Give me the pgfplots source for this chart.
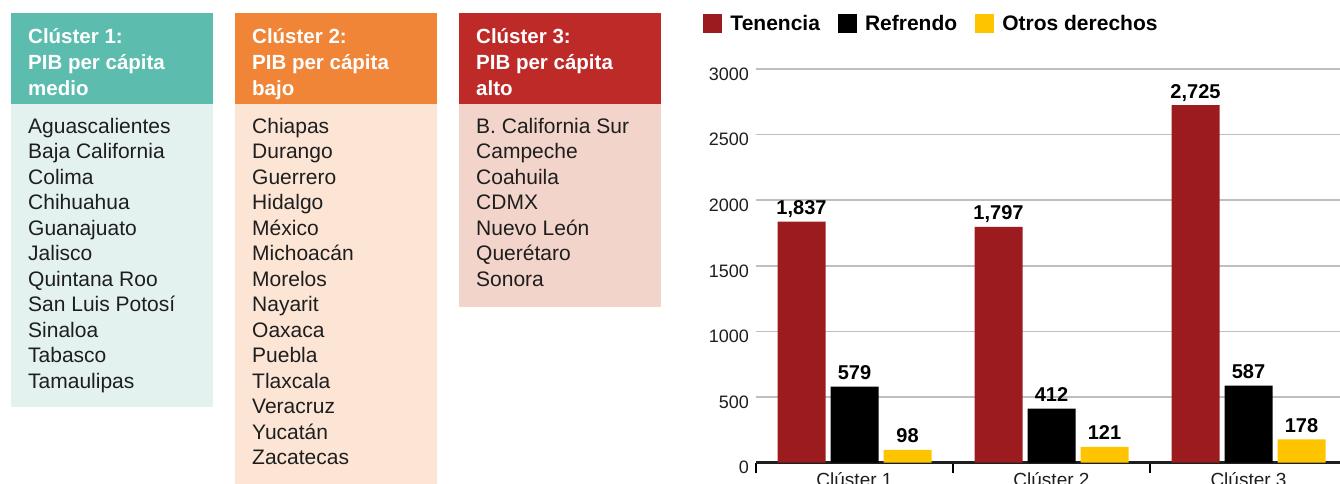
\documentclass[border=0pt]{standalone}
\usepackage{fontspec}
\setmainfont{Liberation Sans}
\usepackage{pgfplots}
\pgfplotsset{compat=1.18}
\definecolor{tenencia}{HTML}{9B1B1E}
\definecolor{otros}{HTML}{FFC400}
\definecolor{cAhead}{HTML}{5CBDAF}
\definecolor{cAbody}{HTML}{E3F2EF}
\definecolor{cBhead}{HTML}{F08437}
\definecolor{cBbody}{HTML}{FCE5D5}
\definecolor{cChead}{HTML}{BE2A28}
\definecolor{cCbody}{HTML}{F2D4CA}
\definecolor{txt}{HTML}{1E1E1E}
\begin{document}
\begin{tikzpicture}[x=1pt,y=1pt]
\path[use as bounding box, clip] (0,0) rectangle (1340,483);
% panels
\fill[cAhead] (11,379) rectangle (213,470);
\fill[cAbody] (11,76) rectangle (213,379);
\fill[cBhead] (235,379) rectangle (437,470);
\fill[cBbody] (235,-5) rectangle (437,379);
\fill[cChead] (459,379) rectangle (661,470);
\fill[cCbody] (459,176) rectangle (661,379);
\tikzset{hd/.style={anchor=base west, inner sep=0pt, text=white, font=\bfseries\fontsize{20.5}{24}\selectfont},
         it/.style={anchor=base west, inner sep=0pt, text=txt, font=\fontsize{21}{25}\selectfont}}
\node[hd] at (28,439) {Clúster 1:};
\node[hd] at (28,413.5) {PIB per cápita};
\node[hd] at (28,388) {medio};
\node[hd] at (252,439) {Clúster 2:};
\node[hd] at (252,413.5) {PIB per cápita};
\node[hd] at (252,388) {bajo};
\node[hd] at (476,439) {Clúster 3:};
\node[hd] at (476,413.5) {PIB per cápita};
\node[hd] at (476,388) {alto};
\foreach \t [count=\i from 0] in {Aguascalientes,Baja California,Colima,Chihuahua,Guanajuato,Jalisco,Quintana Roo,San Luis Potosí,Sinaloa,Tabasco,Tamaulipas}
  \node[it] at (28,350-25.5*\i) {\t};
\foreach \t [count=\i from 0] in {Chiapas,Durango,Guerrero,Hidalgo,México,Michoacán,Morelos,Nayarit,Oaxaca,Puebla,Tlaxcala,Veracruz,Yucatán,Zacatecas}
  \node[it] at (252,350-25.5*\i) {\t};
\foreach \t [count=\i from 0] in {B. California Sur,Campeche,Coahuila,CDMX,Nuevo León,Querétaro,Sonora}
  \node[it] at (476,350-25.5*\i) {\t};
\begin{axis}[
  at={(756pt,20.3pt)}, anchor=south west,
  scale only axis, width=591pt, height=393.7pt,
  xmin=-0.5, xmax=2.5, ymin=0, ymax=3000,
  clip=false,
  axis x line*=bottom, axis y line*=left,
  x axis line style={-, line width=2.5pt, black!88},
  y axis line style={draw=none},
  tick align=inside,
  xtick={0,1,2}, xticklabels={Clúster 1,Clúster 2,Clúster 3},
  minor xtick={-0.5,0.5,1.5},
  major tick length=0pt, minor tick length=10pt,
  minor x tick style={line width=1.5pt, black},
  ytick={0,500,1000,1500,2000,2500,3000},
  ymajorgrids, major grid style={line width=1.6pt, gray!50},
  /pgf/number format/1000 sep={},
  /pgf/number format/assume math mode=true,
  yticklabel style={font=\fontsize{18}{20}\selectfont, text=txt, xshift=-3.5pt, yshift=-5pt},
  xticklabel style={font=\fontsize{19}{22}\selectfont, text=txt, anchor=north, inner sep=0pt, yshift=-10pt},
  ybar=5pt, bar width=48pt,
  nodes near coords={\pgfmathprintnumber[assume math mode=true,1000 sep={,}]{\pgfplotspointmeta}},
  every node near coord/.append style={anchor=base, yshift=7pt, inner sep=0pt, text=black, font=\bfseries\fontsize{20}{24}\selectfont},
  legend columns=-1,
  legend image code/.code={\fill[#1] (0pt,-9.5pt) rectangle (19pt,9.5pt);},
  legend style={at={(-0.0897,1.1159)}, anchor=west, draw=none, fill=none, inner sep=0pt,
    font=\bfseries\fontsize{21}{24}\selectfont,
    /tikz/every odd column/.append style={column sep=6.3pt},
    /tikz/every even column/.append style={column sep=15.8pt}},
]
\addplot[fill=tenencia, draw=none] coordinates {(0,1837) (1,1797) (2,2725)};
\addplot[fill=black, draw=none] coordinates {(0,579) (1,412) (2,587)};
\addplot[fill=otros, draw=none] coordinates {(0,98) (1,121) (2,178)};
\legend{Tenencia,Refrendo,Otros derechos}
\end{axis}
\end{tikzpicture}
\end{document}
